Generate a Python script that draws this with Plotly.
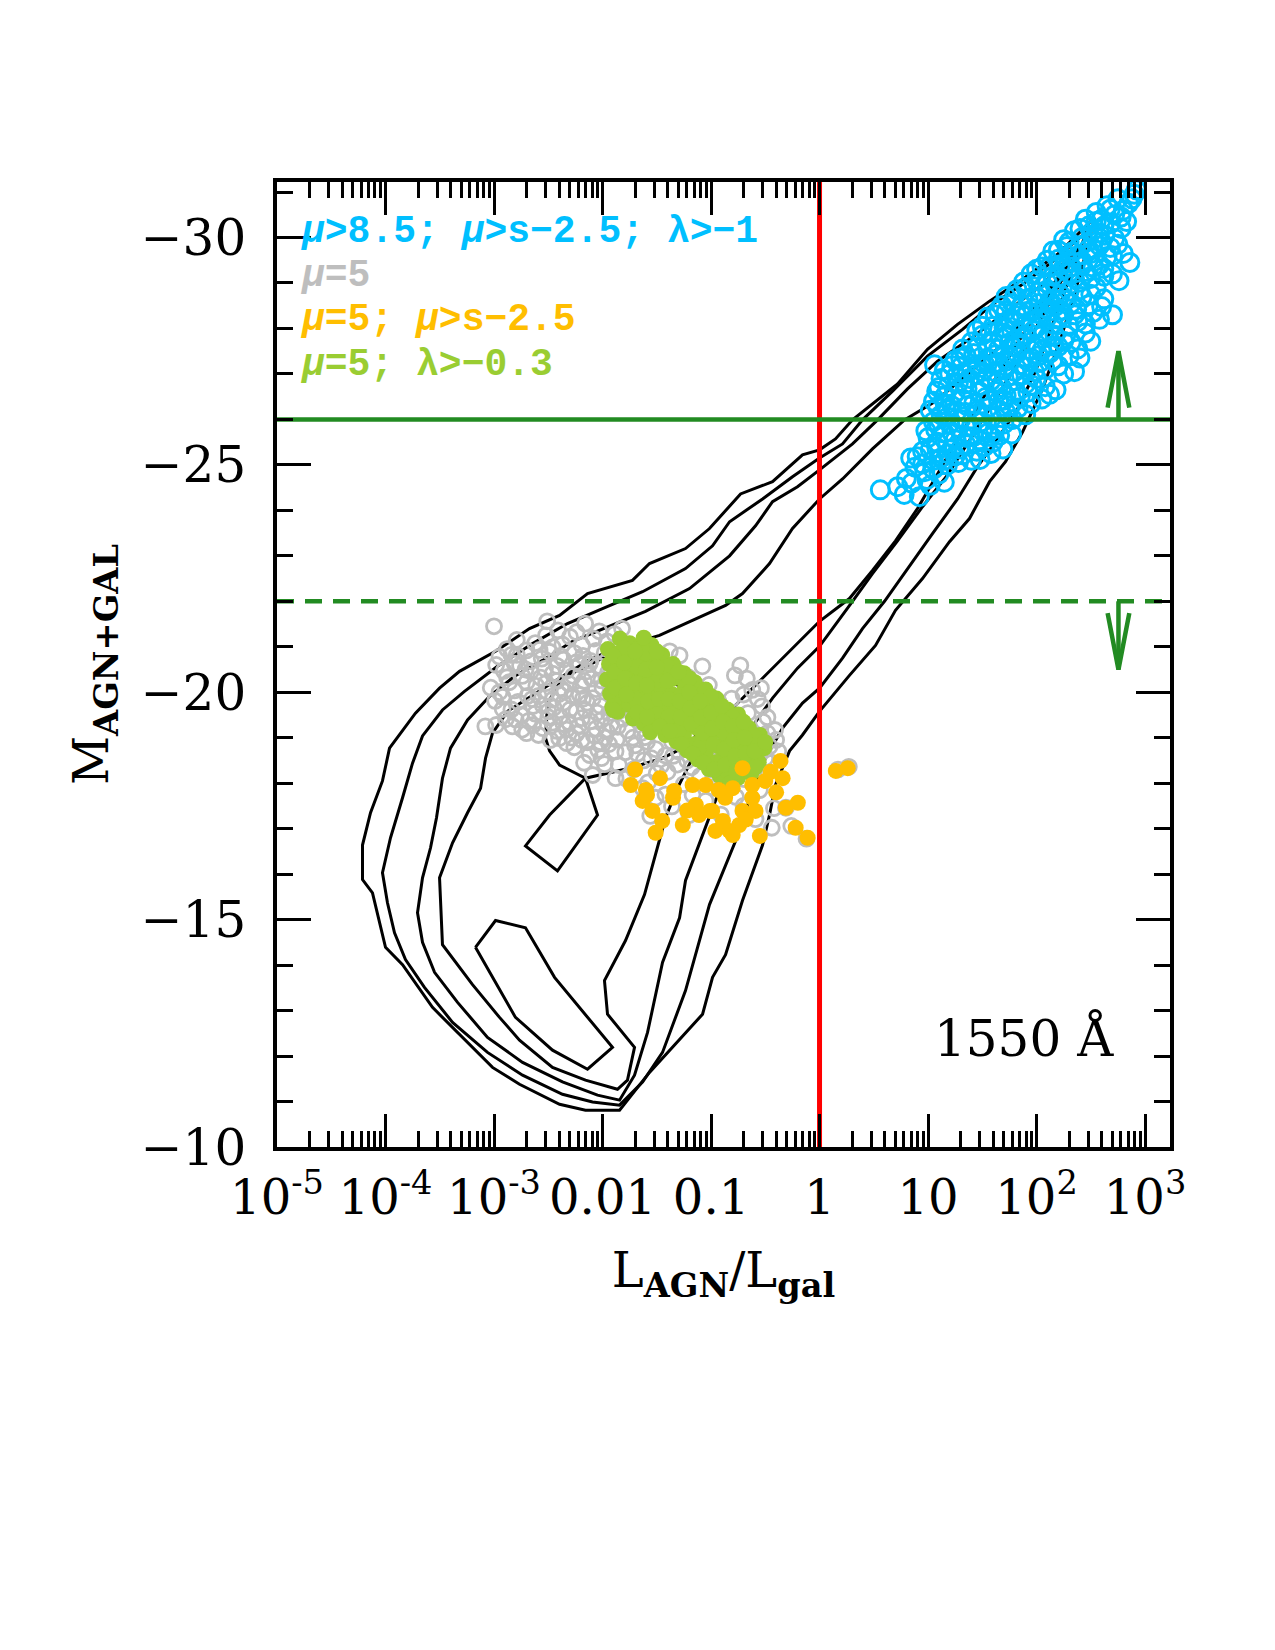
import plotly.graph_objects as go

# ---------------- data (log10 L_AGN/L_gal , M_AGN+GAL) ----------------
CONTOUR_1 = [(2.535,-30.44),(2.194,-29.63),(1.871,-29.08),(1.567,-28.60),(1.272,-28.09),(0.995,-27.54),
    (0.719,-26.78),(0.488,-26.34),(0.304,-25.99),(0.147,-25.57),(0.0,-25.33),(-0.157,-25.22),(-0.433,-24.63),
    (-0.728,-24.36),(-1.014,-23.60),(-1.235,-23.16),(-1.567,-22.83),(-1.724,-22.46),(-2.138,-22.17),
    (-2.396,-21.69),(-2.673,-21.40),(-2.986,-20.90),(-3.318,-20.46),(-3.502,-20.09),(-3.724,-19.54),
    (-3.963,-18.77),(-4.028,-18.05),(-4.138,-17.35),(-4.212,-16.64),(-4.212,-15.88),(-4.120,-15.59),
    (-4.000,-14.39),(-3.843,-14.01),(-3.567,-13.07),(-3.263,-12.35),(-3.014,-11.75),(-2.765,-11.38),
    (-2.396,-10.94),(-2.157,-10.81),(-1.843,-10.81),(-1.567,-11.64),(-1.078,-12.92),(-0.986,-13.73),
    (-0.866,-14.23),(-0.710,-15.42),(-0.525,-16.64),(-0.461,-17.30),(-0.406,-17.96),(-0.276,-18.71),
    (-0.157,-19.06),(0.0,-19.58),(0.276,-20.37),(0.516,-21.03),(0.700,-21.80),(0.949,-22.50),(1.198,-23.31),
    (1.382,-23.82),(1.567,-24.63),(1.714,-25.07),(1.871,-25.72),(2.055,-26.67),(2.221,-27.76),(2.350,-28.75),
    (2.452,-29.63),(2.535,-30.44)]

CONTOUR_2 = [(2.461,-30.13),(2.147,-29.47),(1.871,-28.97),(1.594,-28.53),(1.318,-27.98),(0.995,-27.39),
    (0.673,-26.62),(0.396,-25.99),(0.212,-25.46),(0.0,-25.15),(-0.249,-24.74),(-0.525,-24.25),(-0.829,-23.75),
    (-0.986,-23.22),(-1.235,-22.72),(-1.631,-22.21),(-2.0,-21.84),(-2.323,-21.51),(-2.645,-21.07),
    (-2.968,-20.57),(-3.272,-20.02),(-3.475,-19.61),(-3.659,-19.04),(-3.751,-18.44),(-3.843,-17.68),
    (-3.954,-16.80),(-4.028,-16.03),(-3.982,-15.37),(-3.917,-14.71),(-3.816,-14.12),(-3.641,-13.51),
    (-3.382,-12.74),(-3.060,-12.08),(-2.737,-11.58),(-2.369,-11.16),(-2.092,-10.99),(-1.843,-10.92),
    (-1.631,-11.43),(-1.447,-12.08),(-1.235,-13.44),(-1.124,-14.39),(-1.014,-15.33),(-0.774,-16.73),
    (-0.618,-17.83),(-0.498,-18.55),(-0.341,-19.21),(-0.157,-19.76),(0.0,-20.09),(0.212,-20.75),(0.396,-21.40),
    (0.599,-22.0),(0.811,-22.72),(1.041,-23.49),(1.272,-24.25),(1.456,-24.96),(1.641,-25.57),(1.825,-26.23),
    (1.991,-27.06),(2.147,-28.09),(2.286,-28.97),(2.387,-29.63),(2.461,-30.13)]

CONTOUR_3 = [(2.387,-29.78),(2.055,-28.97),(1.733,-28.38),(1.410,-27.81),(1.088,-27.28),(0.811,-26.67),
    (0.535,-25.99),(0.304,-25.46),(0.0,-24.89),(-0.203,-24.52),(-0.433,-24.19),(-0.590,-23.66),(-0.829,-23.0),
    (-1.198,-22.28),(-1.604,-21.78),(-2.0,-21.40),(-2.276,-21.12),(-2.553,-20.70),(-2.811,-20.35),
    (-3.041,-19.91),(-3.244,-19.39),(-3.401,-18.77),(-3.475,-18.11),(-3.530,-17.24),(-3.585,-16.58),
    (-3.659,-15.92),(-3.705,-15.15),(-3.659,-14.50),(-3.548,-13.84),(-3.336,-13.18),(-3.060,-12.41),
    (-2.737,-11.86),(-2.369,-11.43),(-2.046,-11.14),(-1.843,-11.03),(-1.705,-11.58),(-1.585,-12.52),
    (-1.447,-14.06),(-1.290,-15.04),(-1.235,-15.86),(-1.097,-16.73),(-0.959,-17.61),(-0.829,-18.44),
    (-0.664,-19.10),(-0.433,-19.87),(-0.203,-20.53),(0.0,-21.01),(0.304,-22.0),(0.488,-22.61),(0.719,-23.33),
    (0.949,-24.08),(1.180,-24.78),(1.392,-25.57),(1.594,-26.34),(1.779,-27.06),(1.963,-27.87),(2.147,-28.68),
    (2.286,-29.30),(2.387,-29.78)]

CONTOUR_4 = [(2.313,-29.47),(2.009,-28.53),(1.687,-27.65),(1.364,-27.0),(1.069,-26.40),(0.783,-25.99),
    (0.488,-25.35),(0.212,-24.69),(0.0,-24.25),(-0.249,-23.60),(-0.461,-22.83),(-0.710,-22.17),(-0.866,-21.91),
    (-1.171,-21.58),(-1.475,-21.25),(-1.816,-21.01),(-2.092,-20.75),(-2.369,-20.35),(-2.645,-19.93),
    (-2.876,-19.58),(-3.014,-19.10),(-3.078,-18.55),(-3.124,-17.89),(-3.244,-17.35),(-3.382,-16.69),
    (-3.502,-15.92),(-3.475,-14.45),(-3.198,-13.57),(-2.949,-12.85),(-2.765,-12.35),(-2.461,-11.75),
    (-2.157,-11.47),(-1.862,-11.27),(-1.770,-11.47),(-1.705,-12.19),(-1.954,-12.92),(-1.982,-13.66),
    (-1.788,-14.54),(-1.613,-15.55),(-1.493,-16.58),(-1.419,-17.24),(-1.309,-17.89),(-1.171,-18.55),
    (-0.940,-19.32),(-0.664,-19.98),(-0.387,-20.64),(-0.157,-21.18),(0.0,-21.56),(0.276,-22.06),(0.488,-22.68),
    (0.700,-23.33),(0.903,-24.04),(1.088,-24.80),(1.272,-25.57),(1.502,-26.45),(1.733,-27.32),(1.963,-28.20),
    (2.147,-28.86),(2.313,-29.47)]

CONTOUR_5A = [(-2.525,-18.99),(-2.488,-18.71),(-2.396,-18.40),(-2.157,-18.11),(-2.046,-17.30),(-2.415,-16.07),
    (-2.710,-16.62),(-2.488,-17.30),(-2.157,-18.11),(-1.751,-18.33),(-1.447,-18.55),(-1.171,-18.88),
    (-1.078,-19.43),(-1.263,-20.09),(-1.631,-20.64),(-2.0,-20.75),(-2.369,-20.31),(-2.507,-19.76),(-2.525,-18.99)]

CONTOUR_5B = [(-3.171,-14.39),(-2.986,-14.98),(-2.710,-14.82),(-2.442,-13.73),(-1.908,-12.19),(-2.138,-11.71),
    (-2.461,-12.13),(-2.802,-12.85),(-3.171,-14.39)]

GRAY_MU5 = [(-3.00,-21.45),(-2.51,-21.56),(-2.16,-21.51),(-2.03,-21.34),(-1.82,-21.40),(-2.30,-21.22),(-2.62,-21.08),
    (-2.41,-21.36),(-2.19,-21.03),(-1.96,-21.12),(-2.95,-20.78),(-2.81,-20.63),(-2.70,-20.92),(-2.56,-20.74),
    (-2.42,-20.58),(-2.26,-20.86),(-2.11,-20.69),(-1.90,-20.81),(-1.71,-20.93),(-1.38,-20.90),(-1.29,-20.81),
    (-1.08,-20.57),(-0.73,-20.59),(-2.76,-20.59),(-1.52,-20.62),(-3.03,-20.10),(-2.86,-20.22),(-2.74,-20.36),
    (-2.61,-20.14),(-2.46,-20.41),(-2.31,-20.19),(-2.14,-20.46),(-2.01,-20.26),(-1.86,-20.08),(-1.66,-20.42),
    (-1.44,-20.21),(-1.21,-20.33),(-0.78,-20.37),(-1.02,-20.16),(-0.54,-20.09),(-2.91,-20.47),(-2.99,-19.81),
    (-2.84,-19.62),(-2.69,-19.92),(-2.55,-19.71),(-2.40,-19.96),(-2.24,-19.58),(-2.09,-19.87),(-1.94,-19.54),
    (-1.79,-19.76),(-1.61,-19.91),(-1.41,-19.62),(-1.19,-19.83),(-0.99,-19.61),(-0.81,-19.86),(-0.53,-19.69),
    (-0.66,-19.54),(-2.62,-19.53),(-3.08,-19.25),(-2.89,-19.41),(-2.74,-19.18),(-2.55,-19.21),(-2.39,-19.46),
    (-2.24,-19.09),(-2.11,-19.36),(-1.96,-19.14),(-1.81,-19.42),(-1.64,-19.11),(-1.49,-19.36),(-1.31,-19.19),
    (-1.11,-19.41),(-0.91,-19.12),(-0.71,-19.31),(-0.41,-19.17),(-2.40,-18.99),(-2.26,-18.79),(-2.12,-18.62),
    (-1.94,-18.86),(-1.79,-18.68),(-1.59,-18.91),(-1.42,-18.61),(-1.21,-18.82),(-1.01,-18.56),(-0.79,-18.72),
    (-0.61,-18.59),(-0.46,-18.81),(-2.09,-18.18),(-1.88,-18.11),(-1.71,-18.31),(-1.50,-18.22),(-1.31,-18.41),
    (-1.10,-18.16),(-0.89,-18.36),(-0.69,-18.09),(-1.98,-18.42),(-1.63,-17.89),(-1.51,-17.68),(-1.17,-17.74),
    (-1.05,-17.61),(-1.36,-17.49),(-0.91,-17.31),(-0.59,-17.21),(-0.44,-17.02),(-1.56,-17.28),(-0.26,-17.06),
    (-0.31,-17.46),(-2.35,-20.02),(-2.21,-19.94),(-2.06,-20.07),(-1.91,-19.96),(-2.46,-19.84),(-2.31,-19.34),
    (-2.16,-19.61),(-2.01,-19.39),(-1.86,-19.24),(-1.69,-19.56),(-1.54,-19.71),(-1.76,-20.16),(-2.51,-20.01),
    (-2.66,-20.46),(-2.21,-20.61),(-1.61,-19.01),(-1.36,-18.91),(-1.16,-19.06),(-1.46,-18.39),(-0.96,-18.86),
    (-0.62,-20.05),(-0.48,-19.45),(-0.70,-19.95),(0.17,-18.30),(0.27,-18.36),(-0.12,-16.78),
    (-2.88,-20.95),(-2.79,-21.15),(-2.52,-21.25),(-2.37,-21.05),(-2.24,-21.32),(-2.08,-21.18),(-1.89,-21.28),
    (-2.98,-20.60),(-2.88,-20.33),(-2.79,-20.82),(-2.66,-20.68),(-2.49,-20.89),(-2.36,-20.72),(-2.18,-20.80),
    (-2.04,-20.58),(-1.98,-20.87),(-2.95,-20.00),(-2.81,-20.04),(-2.70,-20.22),(-2.57,-20.32),(-2.42,-20.25),
    (-2.27,-20.36),(-2.20,-20.14),(-2.10,-20.30),(-1.95,-20.43),(-1.81,-20.30),(-1.70,-20.62),(-1.58,-20.27),
    (-1.49,-20.45),(-2.92,-19.63),(-2.78,-19.79),(-2.64,-19.70),(-2.50,-19.58),(-2.36,-19.77),(-2.28,-19.93),
    (-2.14,-19.77),(-2.02,-19.70),(-1.88,-19.83),(-1.74,-19.70),(-1.67,-19.37),(-1.48,-19.85),(-1.35,-19.78),
    (-1.25,-19.59),(-1.12,-19.70),(-0.93,-19.79),(-0.86,-19.55),(-2.98,-19.28),(-2.83,-19.25),(-2.68,-19.37),
    (-2.59,-19.06),(-2.46,-19.33),(-2.33,-19.18),(-2.19,-19.43),(-2.06,-19.20),(-1.92,-19.30),(-1.77,-19.16),
    (-1.57,-19.22),(-1.41,-19.27),(-1.23,-19.30),(-1.03,-19.26),(-0.83,-19.30),(-0.63,-19.10),(-0.52,-19.35),
    (-2.48,-18.95),(-2.33,-18.88),(-2.19,-18.95),(-2.04,-18.73),(-1.87,-18.96),(-1.70,-18.83),(-1.51,-18.75),
    (-1.30,-18.70),(-1.11,-18.63),(-0.91,-18.68),(-0.72,-18.85),(-0.55,-18.70),(-0.40,-18.95),(-2.17,-18.45),
    (-2.01,-18.55),(-1.85,-18.40),(-1.62,-18.50),(-1.40,-18.25),(-1.22,-18.50),(-1.00,-18.30),(-0.80,-18.45),
    (-0.60,-18.30),(-0.50,-18.55),(-1.78,-18.10),(-1.58,-18.02),(-1.25,-17.98),(-0.98,-17.90),(-0.77,-17.70),
    (-0.55,-17.85),(-0.42,-17.45),(-1.42,-17.75),(-1.20,-17.30),(-0.70,-17.50),
    (-2.58,-20.93),(-2.46,-20.99),(-2.33,-20.48),(-2.24,-20.66),(-2.06,-20.91),(-2.71,-20.50),(-2.84,-20.82),
    (-2.53,-20.52),(-2.39,-20.80),(-2.12,-20.62),(-2.65,-19.85),(-2.52,-20.20),(-2.38,-20.08),(-2.17,-20.25),
    (-2.00,-20.10),(-2.75,-19.50),(-2.59,-19.92),(-2.45,-19.66),(-2.30,-19.62),(-2.18,-19.86),(-2.05,-19.55),
    (-2.70,-19.10),(-2.50,-19.45),(-2.36,-19.30),(-2.22,-19.25),(-2.08,-19.05),(-2.92,-19.90),(-2.80,-19.40),
    (-2.64,-19.28),(-1.98,-19.00),(-1.84,-19.60),(-1.92,-20.20),(-2.42,-19.15),(-2.28,-19.00),(-2.14,-18.90),
    (-1.72,-19.00),(-1.55,-18.55),(-1.35,-18.60),(-1.18,-18.35),(-0.98,-18.15),(-0.75,-18.25),(-0.62,-18.80),
    (-0.48,-19.10),(-0.44,-18.45),(-0.38,-18.70),(-1.68,-18.65),(-1.88,-18.70),(-2.02,-18.90),(-0.57,-19.85),
    (-0.67,-20.30)]

GREEN_MU5_LAM = [(-1.95,-20.95),(-1.94,-20.62),(-1.96,-20.28),(-1.93,-19.97),(-1.91,-19.68),(-1.84,-21.18),
    (-1.86,-20.86),(-1.83,-20.52),(-1.85,-20.16),(-1.82,-19.81),(-1.86,-19.57),(-1.75,-21.08),(-1.74,-20.76),
    (-1.76,-20.42),(-1.73,-20.06),(-1.75,-19.72),(-1.72,-19.42),(-1.65,-21.02),(-1.64,-20.66),(-1.66,-20.31),
    (-1.63,-19.96),(-1.65,-19.62),(-1.62,-19.31),(-1.55,-21.04),(-1.54,-20.71),(-1.56,-20.36),(-1.53,-20.02),
    (-1.55,-19.66),(-1.52,-19.32),(-1.56,-19.12),(-1.45,-20.82),(-1.44,-20.46),(-1.46,-20.11),(-1.43,-19.76),
    (-1.45,-19.41),(-1.42,-19.06),(-1.35,-20.62),(-1.34,-20.31),(-1.36,-19.96),(-1.33,-19.61),(-1.35,-19.26),
    (-1.32,-18.92),(-1.25,-20.42),(-1.24,-20.11),(-1.26,-19.76),(-1.23,-19.41),(-1.25,-19.06),(-1.22,-18.72),
    (-1.15,-20.22),(-1.14,-19.91),(-1.16,-19.56),(-1.13,-19.21),(-1.15,-18.86),(-1.12,-18.52),(-1.05,-20.06),
    (-1.04,-19.71),(-1.06,-19.36),(-1.03,-19.01),(-1.05,-18.66),(-1.02,-18.31),(-0.95,-19.86),(-0.94,-19.51),
    (-0.96,-19.16),(-0.93,-18.81),(-0.95,-18.46),(-0.92,-18.16),(-0.85,-19.62),(-0.84,-19.31),(-0.86,-18.96),
    (-0.83,-18.61),(-0.85,-18.26),(-0.82,-18.01),(-0.75,-19.51),(-0.74,-19.16),(-0.76,-18.81),(-0.73,-18.46),
    (-0.75,-18.12),(-0.65,-19.21),(-0.64,-18.86),(-0.66,-18.51),(-0.63,-18.21),(-0.55,-19.06),(-0.54,-18.76),
    (-0.56,-18.46),(-1.80,-20.96),(-1.60,-20.86),(-1.40,-20.56),(-1.20,-20.31),(-1.00,-19.91),(-0.80,-19.46),
    (-1.70,-19.86),(-1.50,-19.51),(-1.30,-19.16),(-1.10,-18.81),(-0.90,-18.51),(-0.70,-18.31),(-0.60,-19.01),
    (-0.51,-18.77),(-1.90,-19.61),(-1.62,-21.20),(-1.49,-20.26),(-1.28,-19.93),(-1.08,-19.56),(-0.88,-19.11),
    (-1.68,-20.56),(-1.39,-19.46),
    (-1.90,-20.80),(-1.89,-20.45),(-1.88,-20.10),(-1.80,-20.65),(-1.79,-20.30),(-1.78,-19.95),(-1.70,-20.90),
    (-1.69,-20.20),(-1.68,-19.55),(-1.60,-20.50),(-1.59,-20.15),(-1.58,-19.80),(-1.59,-19.45),(-1.50,-20.90),
    (-1.50,-20.55),(-1.48,-19.85),(-1.47,-19.25),(-1.40,-20.25),(-1.39,-19.85),(-1.38,-19.15),(-1.30,-20.45),
    (-1.29,-19.80),(-1.28,-19.45),(-1.27,-18.85),(-1.20,-20.00),(-1.19,-19.65),(-1.18,-19.30),(-1.17,-18.65),
    (-1.10,-19.80),(-1.09,-19.45),(-1.08,-19.10),(-1.07,-18.45),(-1.00,-19.55),(-0.99,-19.20),(-0.98,-18.85),
    (-0.97,-18.30),(-0.90,-19.70),(-0.89,-19.35),(-0.88,-18.75),(-0.87,-18.40),(-0.80,-19.25),(-0.79,-18.95),
    (-0.78,-18.60),(-0.77,-18.25),(-0.70,-19.35),(-0.69,-19.00),(-0.68,-18.65),(-0.60,-18.70),(-0.59,-18.35),
    (-0.50,-18.90)]

ORANGE_MU5_S = [(-1.47,-18.11),(-1.60,-17.85),(-1.63,-17.61),(-1.54,-17.39),(-1.45,-17.17),(-1.51,-16.91),
    (-1.35,-17.68),(-1.26,-17.08),(-1.17,-17.96),(-1.14,-17.52),(-1.11,-17.30),(-0.99,-17.39),(-0.96,-16.95),
    (-0.83,-16.95),(-0.74,-17.08),(-0.71,-18.33),(-0.62,-17.96),(-0.50,-18.05),(-0.36,-18.49),(-0.34,-18.11),
    (-0.31,-17.46),(-0.20,-17.57),(-0.55,-16.84),(-0.22,-17.02),(-0.11,-16.80),(0.15,-18.27),(0.26,-18.33),
    (-0.62,-17.68),(-0.71,-17.39),(-0.87,-17.68),(-1.05,-17.96),(-0.80,-17.89),(-1.34,-17.83),(-1.01,-17.39),
    (-0.89,-17.17),(-0.80,-16.86),(-0.59,-17.39),(-1.59,-17.74),(-1.74,-17.96),(-1.70,-18.30),(-0.45,-18.25),
    (-0.40,-17.80),(-0.93,-17.85),(-1.22,-17.40),(-0.68,-17.20)]

CYAN_MU85 = [(0.56,-24.45),(0.78,-24.35),(0.85,-24.60),(0.92,-24.30),(1.02,-24.55),(0.88,-24.95),(0.97,-24.85),
    (1.10,-24.80),(1.05,-25.10),(0.84,-25.15),(0.95,-25.30),(1.18,-25.00),(1.28,-25.05),(1.22,-25.35),(1.00,-25.60),
    (1.08,-25.50),(1.15,-25.70),(1.25,-25.55),(1.35,-25.45),(1.45,-25.30),(1.52,-25.40),(1.60,-25.50),(1.69,-25.35),
    (1.05,-25.95),(1.12,-26.10),(1.20,-25.90),(1.30,-26.00),(1.40,-25.85),(1.50,-25.95),(1.62,-25.80),(1.70,-25.90),
    (1.78,-26.00),(1.90,-26.10),(1.05,-26.40),(1.15,-26.50),(1.22,-26.30),(1.32,-26.45),(1.42,-26.35),(1.55,-26.25),
    (1.65,-26.40),(1.75,-26.30),(1.85,-26.50),(2.18,-26.65),(1.12,-26.90),(1.20,-27.00),(1.28,-26.80),(1.38,-26.90),
    (1.48,-26.75),(1.58,-26.85),(1.68,-26.70),(1.80,-26.85),(1.92,-26.60),(2.00,-26.90),(1.06,-27.20),(1.25,-27.30),
    (1.35,-27.40),(1.45,-27.20),(1.55,-27.35),(1.65,-27.25),(1.75,-27.40),(1.85,-27.20),(1.95,-27.35),(2.08,-27.10),
    (2.15,-27.30),(2.25,-27.00),(2.35,-27.05),(1.40,-27.70),(1.50,-27.85),(1.60,-27.70),(1.70,-27.90),(1.80,-27.75),
    (1.90,-27.85),(2.00,-27.65),(2.10,-27.80),(2.20,-27.60),(2.32,-27.70),(2.45,-27.90),(1.55,-28.25),(1.65,-28.40),
    (1.75,-28.20),(1.85,-28.35),(1.95,-28.15),(2.05,-28.30),(2.15,-28.10),(2.25,-28.30),(2.38,-28.15),(2.52,-28.35),
    (2.70,-28.30),(1.72,-28.70),(1.82,-28.85),(1.92,-28.65),(2.02,-28.80),(2.12,-28.60),(2.22,-28.75),(2.32,-28.55),
    (2.42,-28.70),(2.55,-28.90),(1.95,-29.20),(2.05,-29.35),(2.15,-29.15),(2.25,-29.30),(2.35,-29.10),(2.45,-29.25),
    (2.58,-29.40),(2.70,-29.20),(2.86,-29.45),(2.15,-29.70),(2.28,-29.80),(2.38,-29.60),(2.48,-29.75),(2.60,-29.90),
    (2.75,-29.85),(2.35,-30.15),(2.48,-30.25),(2.58,-30.10),(2.68,-30.30),(2.78,-30.20),(2.55,-30.55),(2.65,-30.70),
    (2.80,-30.60),(2.90,-30.95),(2.92,-31.05),(2.88,-30.85),(1.35,-26.15),(1.48,-26.60),(1.62,-27.05),(1.78,-27.60),
    (1.88,-28.05),(2.02,-28.55),(2.18,-29.00),(2.30,-29.45),(1.18,-25.25),(1.40,-25.10),(1.55,-25.70),(1.72,-26.15),
    (1.98,-27.05),(2.40,-27.35),(2.62,-28.65),(2.70,-29.60),(1.10,-26.70),(1.30,-27.15),
    (0.80,-24.70),(0.99,-24.68),(1.15,-24.62),(0.72,-24.52),(0.90,-25.18),(1.02,-25.33),(1.12,-25.15),(1.32,-25.22),
    (1.48,-25.12),(1.58,-25.25),(0.98,-25.75),(1.07,-25.78),(1.22,-25.72),(1.32,-25.66),(1.42,-25.62),(1.47,-25.55),
    (1.66,-25.65),(1.77,-25.68),(1.02,-26.20),(1.09,-26.28),(1.17,-26.22),(1.27,-26.18),(1.45,-26.12),(1.59,-26.05),
    (1.66,-26.20),(1.83,-26.25),(1.95,-26.35),(2.05,-26.45),(1.08,-26.62),(1.18,-26.72),(1.25,-26.58),(1.36,-26.68),
    (1.53,-26.48),(1.62,-26.62),(1.72,-26.52),(1.90,-26.78),(2.08,-26.72),(2.12,-26.55),(1.15,-27.08),(1.22,-27.18),
    (1.32,-27.02),(1.40,-27.12),(1.50,-27.05),(1.60,-27.22),(1.70,-27.10),(1.80,-27.05),(1.90,-27.15),(2.03,-27.25),
    (2.20,-27.18),(2.30,-27.40),(1.32,-27.55),(1.45,-27.58),(1.55,-27.55),(1.65,-27.55),(1.75,-27.68),(1.85,-27.62),
    (1.95,-27.52),(2.05,-27.52),(2.15,-27.62),(2.27,-27.85),(2.38,-27.55),(2.50,-27.72),(1.50,-28.05),(1.60,-28.05),
    (1.70,-28.02),(1.80,-28.15),(2.00,-28.02),(2.10,-28.25),(2.20,-28.20),(2.30,-28.05),(2.45,-28.10),(2.58,-28.20),
    (1.68,-28.50),(1.78,-28.55),(1.87,-28.50),(1.97,-28.42),(2.08,-28.45),(2.17,-28.48),(2.27,-28.62),(2.37,-28.42),
    (2.48,-28.52),(2.60,-28.48),(1.88,-29.02),(2.00,-29.05),(2.10,-29.00),(2.20,-29.12),(2.30,-29.22),(2.40,-29.02),
    (2.50,-29.10),(2.62,-29.15),(2.76,-29.05),(2.10,-29.50),(2.20,-29.52),(2.33,-29.68),(2.42,-29.48),(2.53,-29.55),
    (2.65,-29.58),(2.80,-29.65),(2.25,-29.95),(2.42,-30.00),(2.52,-29.95),(2.63,-30.05),(2.72,-29.98),(2.83,-30.35),
    (2.45,-30.40),(2.60,-30.40),(2.72,-30.50),(2.85,-30.75),(2.75,-30.85),
    (1.10,-25.85),(1.18,-26.05),(1.28,-25.82),(1.36,-26.30),(1.46,-26.20),(1.56,-26.42),(1.70,-26.42),(1.80,-26.58),
    (1.16,-26.32),(1.26,-26.95),(1.34,-26.78),(1.44,-26.98),(1.54,-26.92),(1.64,-26.82),(1.74,-26.95),(1.86,-26.98),
    (1.96,-26.75),(1.30,-27.35),(1.42,-27.45),(1.52,-27.22),(1.62,-27.42),(1.72,-27.28),(1.82,-27.45),(1.92,-27.28),
    (2.02,-27.40),(2.12,-27.45),(1.45,-27.95),(1.57,-27.92),(1.67,-27.80),(1.77,-27.95),(1.87,-27.78),(1.97,-27.95),
    (2.07,-27.92),(2.17,-27.85),(2.25,-27.72),(1.62,-28.30),(1.72,-28.38),(1.82,-28.28),(1.92,-28.38),(2.02,-28.22),
    (2.12,-28.38),(2.22,-28.40),(2.35,-28.30),(1.80,-28.72),(1.90,-28.90),(2.00,-28.68),(2.10,-28.85),(2.20,-28.62),
    (2.30,-28.82),(2.40,-28.85),(2.50,-28.75),(2.00,-29.30),(2.12,-29.35),(2.22,-29.40),(2.32,-29.35),(2.42,-29.38),
    (2.52,-29.35),(2.62,-29.32),(2.20,-29.72),(2.30,-29.90),(2.40,-29.82),(2.50,-29.65),(2.58,-29.82),(2.68,-29.78),
    (2.40,-30.20),(2.52,-30.15),(2.62,-30.25),(2.55,-30.35),(2.68,-30.62),(2.78,-30.45),(0.95,-25.02),(1.05,-24.90),
    (1.15,-25.10),(1.25,-25.20),(1.08,-25.38),(1.18,-25.50),(1.30,-25.35),(1.38,-25.62),(1.50,-25.75),(1.58,-25.62)]

X_LOG_RANGE = [-5.0, 3.23]
Y_RANGE = [-10.0, -31.22]
M_BRIGHT_CUT = -26.0
M_FAINT_CUT = -22.0
RATIO_CUT = 1.0
ARROW_LOGX = 2.755
ARROW_UP = (-26.0, -27.5)
ARROW_DOWN = (-22.0, -20.5)

X_TICKVALS = [1e-5, 1e-4, 1e-3, 1e-2, 1e-1, 1, 10, 100, 1000]
X_TICKTEXT = ["10<sup>-5</sup>", "10<sup>-4</sup>", "10<sup>-3</sup>", "0.01", "0.1", "1", "10",
              "10<sup>2</sup>", "10<sup>3</sup>"]
Y_TICKVALS = [-30, -25, -20, -15, -10]
Y_TICKTEXT = ["\u221230", "\u221225", "\u221220", "\u221215", "\u221210"]

LEGEND_LINES = [
    ("<i>\u03bc</i>>8.5; <i>\u03bc</i>>s\u22122.5; \u03bb>\u22121", "#00BFFF"),
    ("<i>\u03bc</i>=5", "#BEBEBE"),
    ("<i>\u03bc</i>=5; <i>\u03bc</i>>s\u22122.5", "#FFBE00"),
    ("<i>\u03bc</i>=5; \u03bb>\u22120.3", "#9ACD32"),
]

# ---------------- figure ----------------
def xy(points):
    return [10 ** p[0] for p in points], [p[1] for p in points]

fig = go.Figure()

for c in [CONTOUR_1, CONTOUR_2, CONTOUR_3, CONTOUR_4, CONTOUR_5A, CONTOUR_5B]:
    x, y = xy(c)
    fig.add_trace(go.Scatter(x=x, y=y, mode="lines", line=dict(color="black", width=3),
                             hoverinfo="skip", showlegend=False))

x, y = xy(GRAY_MU5)
fig.add_trace(go.Scatter(x=x, y=y, mode="markers",
                         marker=dict(symbol="circle-open", size=15, color="#BEBEBE", line=dict(width=2.8)),
                         showlegend=False))
x, y = xy(GREEN_MU5_LAM)
fig.add_trace(go.Scatter(x=x, y=y, mode="markers",
                         marker=dict(symbol="circle", size=16, color="#9ACD32", line=dict(width=0)),
                         showlegend=False))
x, y = xy(ORANGE_MU5_S)
fig.add_trace(go.Scatter(x=x, y=y, mode="markers",
                         marker=dict(symbol="circle", size=16, color="#FFBE00", line=dict(width=0)),
                         showlegend=False))
x, y = xy(CYAN_MU85)
fig.add_trace(go.Scatter(x=x, y=y, mode="markers",
                         marker=dict(symbol="circle-open", size=18, color="#00BFFF", line=dict(width=3)),
                         showlegend=False))

xl, xr = 10 ** X_LOG_RANGE[0], 10 ** X_LOG_RANGE[1]
fig.add_trace(go.Scatter(x=[RATIO_CUT, RATIO_CUT], y=Y_RANGE, mode="lines",
                         line=dict(color="#FF0000", width=5), hoverinfo="skip", showlegend=False))
fig.add_trace(go.Scatter(x=[xl, xr], y=[M_BRIGHT_CUT, M_BRIGHT_CUT], mode="lines",
                         line=dict(color="#228B22", width=4.5), hoverinfo="skip", showlegend=False))
fig.add_trace(go.Scatter(x=[xl, xr], y=[M_FAINT_CUT, M_FAINT_CUT], mode="lines",
                         line=dict(color="#228B22", width=4.5, dash="17px,11px"), hoverinfo="skip",
                         showlegend=False))

HEAD_LEN = 1.24
HEAD_HALF = 0.10
ax0 = 10 ** ARROW_LOGX
axl = 10 ** (ARROW_LOGX - HEAD_HALF)
axr = 10 ** (ARROW_LOGX + HEAD_HALF)
for (m0, m1) in [ARROW_UP, ARROW_DOWN]:
    back = m1 + (HEAD_LEN if m1 < m0 else -HEAD_LEN)
    fig.add_trace(go.Scatter(x=[ax0, ax0, None, axl, ax0, axr], y=[m0, m1, None, back, m1, back],
                             mode="lines", line=dict(color="#228B22", width=4.5), hoverinfo="skip",
                             showlegend=False))

minor_x = [k * 10.0 ** d for d in range(-5, 4) for k in range(2, 10) if k * 10.0 ** d < xr]
minor_y = [v for v in range(-31, -9) if v not in Y_TICKVALS]

fig.update_xaxes(type="log", range=X_LOG_RANGE, showline=True, linewidth=3.5, linecolor="black",
                 mirror="allticks", ticks="inside", ticklen=33, tickwidth=3, tickcolor="black",
                 tickmode="array", tickvals=X_TICKVALS, ticktext=X_TICKTEXT,
                 tickfont=dict(family="DejaVu Serif", size=48, color="black"),
                 ticklabelstandoff=6,
                 showgrid=False, zeroline=False,
                 minor=dict(ticks="inside", ticklen=16, tickwidth=3, tickcolor="black",
                            tickmode="array", tickvals=minor_x, showgrid=False),
                 title=dict(text="L<sub><b>AGN</b></sub>/L<sub><b>gal</b></sub>",
                            font=dict(family="DejaVu Serif", size=48, color="black"), standoff=30))
fig.update_yaxes(range=Y_RANGE, showline=True, linewidth=3.5, linecolor="black",
                 mirror="allticks", ticks="inside", ticklen=34, tickwidth=3, tickcolor="black",
                 tickmode="array", tickvals=Y_TICKVALS, ticktext=Y_TICKTEXT,
                 tickfont=dict(family="DejaVu Serif", size=50, color="black"),
                 ticklabelstandoff=17,
                 showgrid=False, zeroline=False,
                 minor=dict(ticks="inside", ticklen=16, tickwidth=3, tickcolor="black",
                            tickmode="array", tickvals=minor_y, showgrid=False),
                 title=dict(text="M<sub><b>AGN+GAL</b></sub>",
                            font=dict(family="DejaVu Serif", size=48, color="black"), standoff=18))

annotations = []
legend_y = [0.9482, 0.9036, 0.857, 0.8104]
for (txt, col), yy in zip(LEGEND_LINES, legend_y):
    annotations.append(dict(text=txt, x=0.025, y=yy, xref="paper", yref="paper", xanchor="left",
                            yanchor="middle", showarrow=False,
                            font=dict(family="Liberation Mono", size=38, color=col, weight="bold")))
annotations.append(dict(text="1550 \u00c5", x=0.8365, y=0.112, xref="paper", yref="paper",
                        xanchor="center", yanchor="middle", showarrow=False,
                        font=dict(family="DejaVu Serif", size=50, color="black")))

fig.update_layout(width=1275, height=1650, margin=dict(l=277, r=105, t=182, b=503),
                  paper_bgcolor="white", plot_bgcolor="white", showlegend=False,
                  annotations=annotations, font=dict(family="DejaVu Serif", color="black"))

fig.write_html("out.html")
